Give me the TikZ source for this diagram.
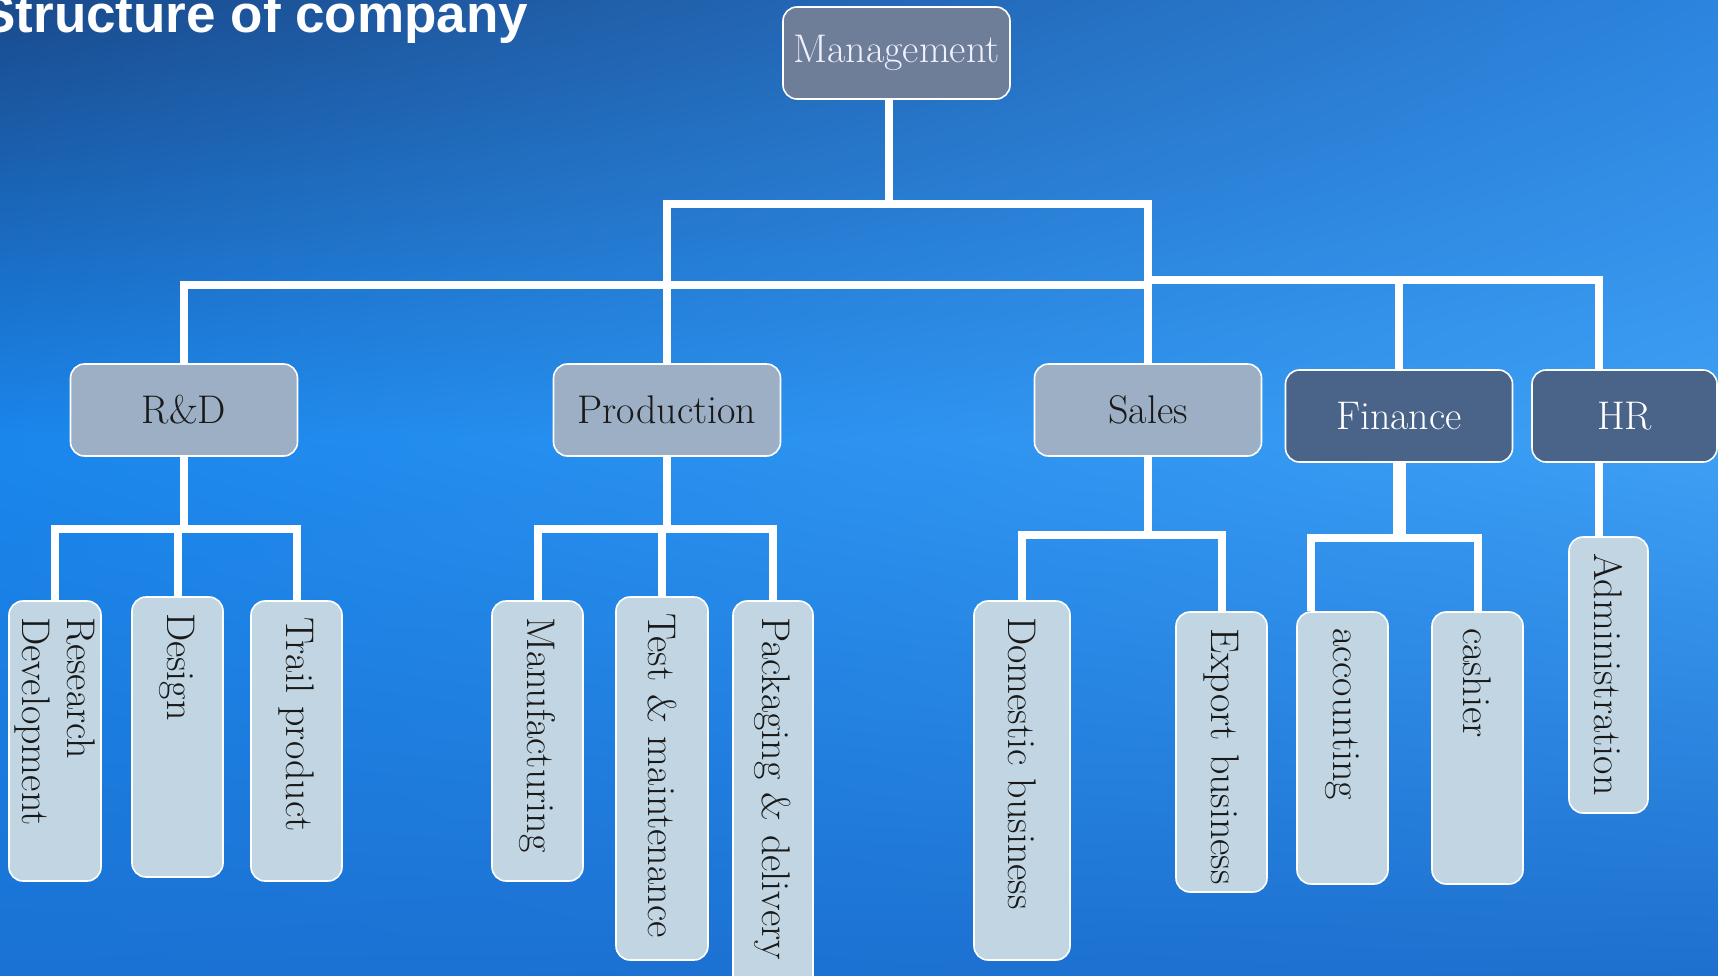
\documentclass[tikz,border=0pt]{standalone}
\usepackage{fontspec}
\newfontfamily\titlefont{Liberation Sans}
\usetikzlibrary{calc,shadings}
\definecolor{bgtl}{RGB}{26,74,140}
\definecolor{bgtr}{RGB}{44,132,222}
\definecolor{bgml}{RGB}{26,134,236}
\definecolor{bgmr}{RGB}{62,160,245}
\definecolor{bgbl}{RGB}{26,114,212}
\definecolor{bgbr}{RGB}{30,112,206}
\definecolor{topbox}{RGB}{110,126,152}
\definecolor{midbox}{RGB}{156,175,196}
\definecolor{darkbox}{RGB}{74,99,136}
\definecolor{leafbox}{RGB}{193,214,226}
\begin{document}
\begin{tikzpicture}[x=0.5pt,y=-0.5pt,
    box/.style={shape=rectangle,rounded corners=7pt,draw=white,line width=0.8pt,minimum width=113.5pt,minimum height=46pt,inner sep=0pt,font=\fontsize{20}{24}\selectfont},
    head/.style={box,fill=midbox,text=black!90},
    dark/.style={box,fill=darkbox,text=white},
    leaf/.style 2 args={shape=rectangle,rounded corners=7pt,draw=white,line width=0.8pt,fill=leafbox,text=black!90,rotate=-90,align=left,inner xsep=8pt,inner ysep=0pt,text width=#1,minimum height=#2,font=\fontsize{20}{22.5}\selectfont},
    link/.style={draw=white,line width=4pt}]
        \useasboundingbox (0,0) rectangle (1718,975);
        \shade[upper left=bgtl, upper right=bgtr, lower left=bgml, lower right=bgmr] (0,0) rectangle (1718,440);
        \shade[upper left=bgml, upper right=bgmr, lower left=bgbl, lower right=bgbr] (0,440) rectangle (1718,975);

        \node[anchor=base west,inner sep=0pt,text=white,font=\titlefont\bfseries\fontsize{26.5}{30}\selectfont] (TTL) at (-20,32) {Structure of company};

        \node[box,fill=topbox,text=white!94!blue] (MGT) at (896.5,53) {Management};
        \node[head] (RD)   at (184,410)  {R\&D};
        \node[head] (PROD) at (667,410)  {Production};
        \node[head] (SAL)  at (1148,410) {Sales};
        \node[dark] (FIN)  at (1399,416) {Finance};
        \node[dark,minimum width=92.5pt] (HR) at (1624.5,416) {HR};

        \node[leaf={124pt}{46pt}]     (RSD) at (55,741)     {Research\\Development};
        \node[leaf={124pt}{45.5pt}]   (DSG) at (177.5,737)  {Design};
        \node[leaf={124pt}{45.5pt}]   (TRL) at (296.5,741)  {Trail product};
        \node[leaf={124pt}{45.5pt}]   (MFG) at (537.5,741)  {Manufacturing};
        \node[leaf={165.5pt}{46pt}]   (TST) at (662,778.5)  {\mbox{Test \& maintenance}};
        \node[leaf={195pt}{40pt}]     (PKG) at (773,812)    {Packaging \& delivery};
        \node[leaf={163.5pt}{48pt}]   (DOM) at (1022,780.5) {Domestic business};
        \node[leaf={124pt}{45.5pt}]   (EXP) at (1221.5,752) {\mbox{Export business}};
        \node[leaf={120pt}{45.5pt}]   (ACC) at (1342.5,748) {accounting};
        \node[leaf={120pt}{45.5pt}]   (CSH) at (1477.5,748) {cashier};
        \node[leaf={122pt}{39.5pt}]   (ADM) at (1608.5,675) {\mbox{Administration}};

        \coordinate (MX) at ($(MGT.south west)!.467!(MGT.south east)$);
        \coordinate (HX) at ($(HR.north west)!.362!(HR.north east)$);
        \coordinate (AX) at ($(ACC.south west)!.165!(ACC.north west)$);

        \draw[link] (MX) -- (MX |- 0,204);
        \draw[link] (PROD.north) |- (SAL.north |- 0,204) -- (SAL.north);
        \draw[link] (RD.north) |- (SAL.north |- 0,285);
        \draw[link] (SAL.north |- 0,280) -| (HX);
        \draw[link] (FIN.north) -- (FIN.north |- 0,280);

        \draw[link] (RD.south) -- ++(0,72) coordinate (RJ);
        \draw[link] (RSD.west) |- (RJ) -| (TRL.west);
        \draw[link] (DSG.west) -- (DSG.west |- RJ);
        \draw[link] (PROD.south) -- ++(0,72) coordinate (PJ);
        \draw[link] (MFG.west) |- (PJ) -| (PKG.west);
        \draw[link] (TST.west) -- (TST.west |- PJ);
        \draw[link] (SAL.south) -- ++(0,78) coordinate (SJ);
        \draw[link] (DOM.west) |- (SJ) -| (EXP.west);
        \draw[link,line width=6.5pt] (FIN.south) -- ++(0,75) coordinate (FJ);
        \draw[link] (AX) |- (FJ) -| (CSH.west);
        \draw[link] (HR.south -| HX) -- (ADM.west -| HX);
    \end{tikzpicture}
\end{document}
